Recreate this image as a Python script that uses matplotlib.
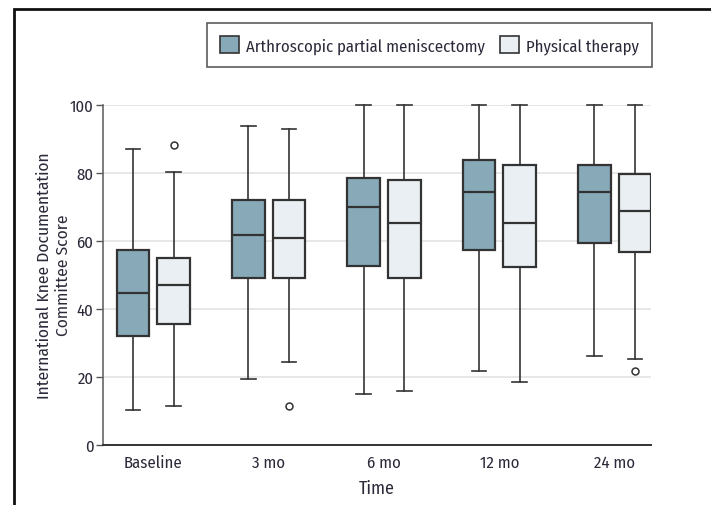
import matplotlib
matplotlib.use("Agg")
import matplotlib.pyplot as plt
from matplotlib.patches import Patch, Rectangle

# ---- data ----
TIMES = ["Baseline", "3 mo", "6 mo", "12 mo", "24 mo"]

apm_whislo = [10.3, 19.4, 14.9, 21.8, 26.2]
apm_q1 = [32.0, 49.1, 52.5, 57.3, 59.3]
apm_med = [44.7, 61.8, 70.0, 74.4, 74.4]
apm_q3 = [57.4, 72.0, 78.4, 83.6, 82.2]
apm_whishi = [87.0, 93.8, 100.0, 100.0, 100.0]
apm_fliers = [[], [], [], [], []]

pt_whislo = [11.5, 24.2, 15.9, 18.3, 25.2]
pt_q1 = [35.6, 49.0, 49.0, 52.2, 56.6]
pt_med = [47.0, 60.8, 65.2, 65.2, 68.6]
pt_q3 = [55.0, 72.0, 77.8, 82.2, 79.5]
pt_whishi = [80.3, 92.8, 100.0, 100.0, 100.0]
pt_fliers = [[88.2], [11.5], [], [], [21.8]]

GROUPS = ["Arthroscopic partial meniscectomy", "Physical therapy"]
COLORS = ["#87A9B8", "#E9EFF3"]
EDGE = "#333333"
TXT = "#2a2a3a"

plt.rcParams["font.family"] = ["Fira Sans Condensed", "DejaVu Sans"]
plt.rcParams["font.size"] = 12


def make_stats(lo, q1, med, q3, hi, fl):
    return [dict(whislo=a, q1=b, med=c, q3=d, whishi=e, fliers=f)
            for a, b, c, d, e, f in zip(lo, q1, med, q3, hi, fl)]


fig = plt.figure(figsize=(7.11, 5.06), dpi=100)
ax = fig.add_axes([0.1449, 0.1192, 0.7707, 0.6719])

pos = list(range(len(TIMES)))
offset = 0.176
width = 0.283
series = [
    make_stats(apm_whislo, apm_q1, apm_med, apm_q3, apm_whishi, apm_fliers),
    make_stats(pt_whislo, pt_q1, pt_med, pt_q3, pt_whishi, pt_fliers),
]
for k, stats in enumerate(series):
    shift = -offset if k == 0 else offset
    bp = ax.bxp(stats, positions=[p + shift for p in pos], widths=width,
                patch_artist=True, showfliers=True, manage_ticks=False,
                boxprops=dict(facecolor=COLORS[k], edgecolor=EDGE, linewidth=1.6),
                medianprops=dict(color=EDGE, linewidth=1.6),
                whiskerprops=dict(color=EDGE, linewidth=1.2),
                capprops=dict(color=EDGE, linewidth=1.2),
                flierprops=dict(marker="o", markersize=5, markerfacecolor="white",
                                markeredgecolor=EDGE, markeredgewidth=1.1),
                capwidths=width * 0.45)
    for art in bp["caps"] + bp["whiskers"]:
        art.set_clip_on(False)
    for art in bp["boxes"] + bp["medians"]:
        art.set_zorder(3)

ax.set_xlim(-0.435, 4.315)
ax.set_ylim(0, 100)
ax.set_yticks([0, 20, 40, 60, 80, 100])
ax.set_xticks(pos)
ax.set_xticklabels(TIMES)
ax.tick_params(axis="x", length=0, pad=7, colors=TXT, labelsize=12)
ax.tick_params(axis="y", length=5, width=1.0, color="#555555", pad=2, colors=TXT, labelsize=12)
ax.yaxis.grid(True, color="#e3e3e3", linewidth=1.2)
ax.set_axisbelow(True)
for s in ["top", "right"]:
    ax.spines[s].set_visible(False)
ax.spines["left"].set_color("#666666")
ax.spines["left"].set_linewidth(1.2)
ax.spines["bottom"].set_color("#333333")
ax.spines["bottom"].set_linewidth(1.4)

ax.set_xlabel("Time", fontsize=13, labelpad=6, color=TXT)
ax.set_ylabel("International Knee Documentation\nCommittee Score", fontsize=12.5,
              labelpad=-1, color=TXT, linespacing=1.25)

handles = [Patch(facecolor=c, edgecolor=EDGE, linewidth=1.2, label=g)
           for g, c in zip(GROUPS, COLORS)]
leg = fig.legend(handles=handles, loc="upper right", bbox_to_anchor=(0.917, 0.9526),
                 borderaxespad=0, ncol=2, frameon=True, fancybox=False, fontsize=12,
                 handlelength=1.15, handleheight=1.15, handletextpad=0.4,
                 columnspacing=0.9, borderpad=0.8, labelcolor=TXT)
leg.get_frame().set_edgecolor("#333333")
leg.get_frame().set_linewidth(1.2)

# outer frame of the figure panel
fig.add_artist(Rectangle((14 / 711, -0.05), 1.2, 1 - 9.5 / 506 + 0.05,
                         transform=fig.transFigure, fill=False,
                         edgecolor="#111111", linewidth=2.0))

fig.savefig("out.png", dpi=100)
